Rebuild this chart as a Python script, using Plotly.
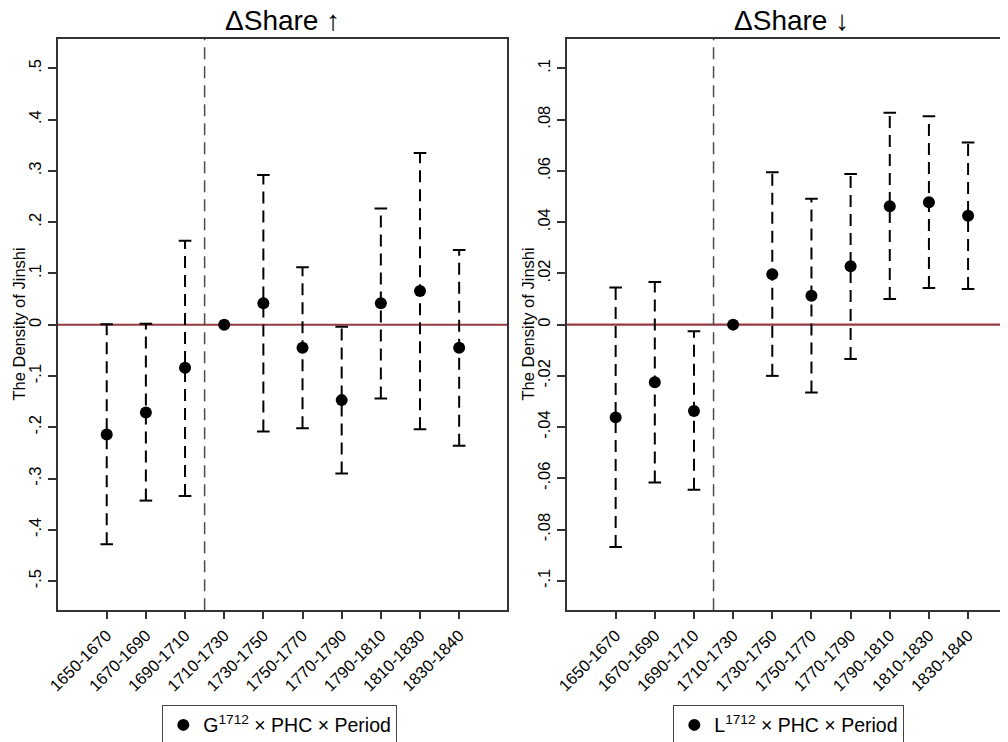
import plotly.graph_objects as go

# ---------------- data ----------------
periods = ["1650-1670", "1670-1690", "1690-1710", "1710-1730", "1730-1750",
           "1750-1770", "1770-1790", "1790-1810", "1810-1830", "1830-1840"]

up_coef = [-0.214, -0.171, -0.084, 0.0, 0.042, -0.045, -0.147, 0.042, 0.066, -0.045]
up_lo = [-0.428, -0.343, -0.334, None, -0.208, -0.202, -0.290, -0.144, -0.204, -0.236]
up_hi = [0.001, 0.002, 0.164, None, 0.292, 0.112, -0.004, 0.227, 0.335, 0.146]

down_coef = [-0.0362, -0.0225, -0.0337, 0.0, 0.0197, 0.0113, 0.0228, 0.0462, 0.0478, 0.0425]
down_lo = [-0.0868, -0.0616, -0.0644, None, -0.0200, -0.0265, -0.0134, 0.0100, 0.0143, 0.0139]
down_hi = [0.0145, 0.0166, -0.0026, None, 0.0595, 0.0491, 0.0588, 0.0827, 0.0813, 0.0711]

up_ticks = [-0.5, -0.4, -0.3, -0.2, -0.1, 0, 0.1, 0.2, 0.3, 0.4, 0.5]
up_ticktext = ["-.5", "-.4", "-.3", "-.2", "-.1", "0", ".1", ".2", ".3", ".4", ".5"]
down_ticks = [-0.1, -0.08, -0.06, -0.04, -0.02, 0, 0.02, 0.04, 0.06, 0.08, 0.1]
down_ticktext = ["-.1", "-.08", "-.06", "-.04", "-.02", "0", ".02", ".04", ".06", ".08", ".1"]

titles = ["\u0394Share \u2191", "\u0394Share \u2193"]
legend_labels = ["G<sup>1712</sup> \u00d7 PHC \u00d7 Period",
                 "L<sup>1712</sup> \u00d7 PHC \u00d7 Period"]
ytitle = "The Density of Jinshi"
base_break = 2.5  # dashed line between 1690-1710 and 1710-1730

# ---------------- layout constants ----------------
OFF = 8                      # page body margin of the html page
W, H = 1008 - OFF, 742 - OFF


def px(v):                   # reference page x -> paper fraction
    return (v - OFF) / W


def py(v):                   # reference page y -> paper fraction
    return 1 - (v - OFF) / H


FONT = "Liberation Sans, Arial, sans-serif"
xs = list(range(len(periods)))
px_per_unit = 39.16
left_dom = [px(58), px(507.3)]
right_dom = [px(566.7), 1.0]
x_lo = -1.244
left_range = [x_lo, x_lo + (507.3 - 58) / px_per_unit]
right_range = [-1.25, -1.25 + (1008 - 566.7) / px_per_unit]
ydom = [py(610.3), py(38.7)]

AXCOL = "#333333"
ZEROCOL = "#963A40"

fig = go.Figure()


def add_panel(coef, lo, hi, xa, ya, legend, label):
    lx, ly = [], []
    cx, cy = [], []
    for i, (l, h) in enumerate(zip(lo, hi)):
        if l is None or h is None:
            continue
        lx += [xs[i], xs[i], None]
        ly += [l, h, None]
        cx += [xs[i], xs[i]]
        cy += [l, h]
    fig.add_trace(go.Scatter(x=lx, y=ly, mode="lines", xaxis=xa, yaxis=ya,
                             line=dict(color="black", width=2, dash="12px,7px"),
                             showlegend=False, hoverinfo="skip"))
    fig.add_trace(go.Scatter(x=cx, y=cy, mode="markers", xaxis=xa, yaxis=ya,
                             marker=dict(symbol="line-ew", size=9,
                                         line=dict(color="black", width=2)),
                             showlegend=False, hoverinfo="skip"))
    fig.add_trace(go.Scatter(x=xs, y=coef, mode="markers", xaxis=xa, yaxis=ya,
                             marker=dict(symbol="circle", size=12, color="black"),
                             name=label, legend=legend, showlegend=True))


add_panel(up_coef, up_lo, up_hi, "x", "y", "legend", legend_labels[0])
add_panel(down_coef, down_lo, down_hi, "x2", "y2", "legend2", legend_labels[1])

xcommon = dict(tickmode="array", tickvals=xs, ticktext=periods, tickangle=-45,
               ticks="outside", ticklen=7, tickwidth=1.5, tickcolor=AXCOL,
               showline=True, linecolor=AXCOL, linewidth=2, mirror=True,
               showgrid=False, zeroline=False, automargin=False,
               tickfont=dict(family=FONT, size=16.5, color="black"))
ycommon = dict(tickmode="array", ticks="outside", ticklen=8, tickwidth=1.5,
               tickcolor=AXCOL, tickangle=-90, showline=True, linecolor=AXCOL,
               linewidth=2, showgrid=False, zeroline=False, domain=ydom,
               automargin=False,
               tickfont=dict(family=FONT, size=16.5, color="black"))

fig.update_layout(
    width=W, height=H,
    margin=dict(l=0, r=0, t=0, b=0, autoexpand=False),
    paper_bgcolor="white", plot_bgcolor="white",
    font=dict(family=FONT, color="black"),
    xaxis=dict(xcommon, domain=left_dom, range=left_range, anchor="y"),
    yaxis=dict(ycommon, tickvals=up_ticks, ticktext=up_ticktext,
               range=[-0.557, 0.558], anchor="x", mirror=True),
    xaxis2=dict(xcommon, domain=right_dom, range=right_range, anchor="y2"),
    yaxis2=dict(ycommon, tickvals=down_ticks, ticktext=down_ticktext,
                range=[-0.1115, 0.1116], anchor="x2", mirror=False),
    legend=dict(x=px(162.3), y=py(704.7), xanchor="left", yanchor="top",
                bordercolor="#444444", borderwidth=1, bgcolor="white",
                itemwidth=30,
                font=dict(family=FONT, size=19.5, color="black")),
    legend2=dict(x=px(673.3), y=py(704.7), xanchor="left", yanchor="top",
                 bordercolor="#444444", borderwidth=1, bgcolor="white",
                 itemwidth=30,
                 font=dict(family=FONT, size=19.5, color="black")),
)

for xr, yr in (("x", "y"), ("x2", "y2")):
    fig.add_shape(type="line", xref=f"{xr} domain", yref=yr, x0=0, x1=1, y0=0, y1=0,
                  line=dict(color=ZEROCOL, width=2.2), layer="below")
    fig.add_shape(type="line", xref=xr, yref=f"{yr} domain", x0=base_break, x1=base_break,
                  y0=0, y1=1, line=dict(color="#4a4a4a", width=1.5, dash="12px,7px"),
                  layer="below")

for cx_ref, t in ((282.6, titles[0]), (791.3, titles[1])):
    fig.add_annotation(text=t, xref="paper", yref="paper",
                       x=px(cx_ref), y=py(20),
                       xanchor="center", yanchor="middle", showarrow=False,
                       font=dict(family=FONT, size=28, color="black"))

for xpix in (18, 527):
    fig.add_annotation(text=ytitle, xref="paper", yref="paper",
                       x=px(xpix), y=(ydom[0] + ydom[1]) / 2,
                       xanchor="center", yanchor="middle", textangle=-90,
                       showarrow=False,
                       font=dict(family=FONT, size=16.5, color="black"))

fig.write_html("out.html")
